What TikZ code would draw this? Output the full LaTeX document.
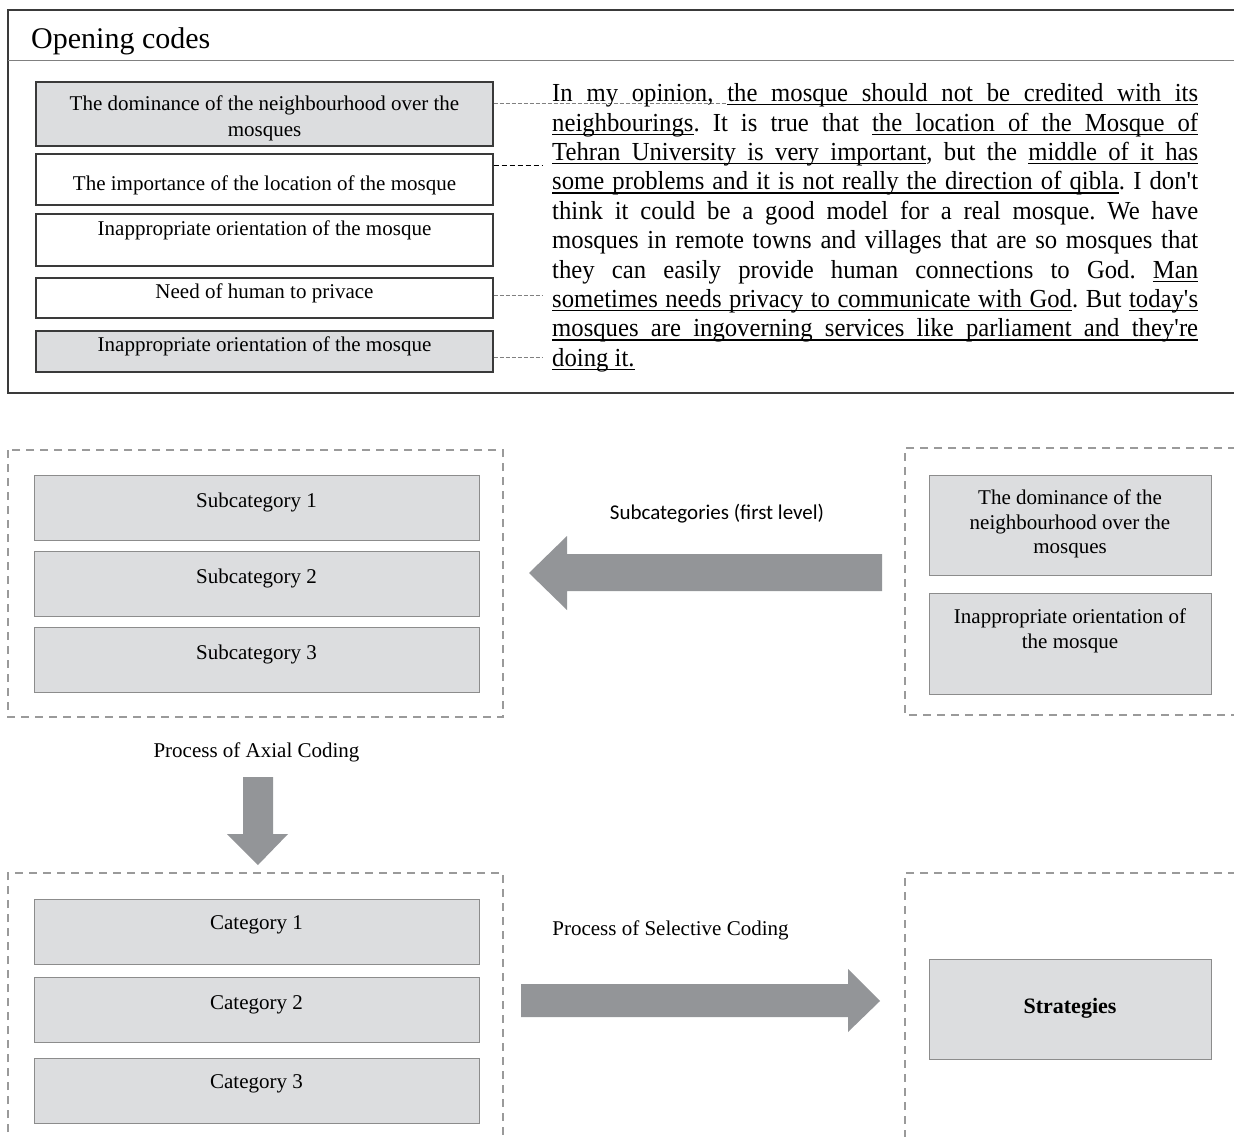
\documentclass[tikz,border=0pt]{standalone}
\usepackage{fontspec}
\setmainfont{Liberation Serif}
\newfontfamily\carlito{Carlito}
\newfontfamily\parafont{Liberation Serif}[FakeStretch=0.95]
\definecolor{boxfill}{HTML}{DCDDDF}
\definecolor{arrowgray}{HTML}{939598}
\definecolor{framegray}{HTML}{9A9A9A}
\definecolor{linedark}{HTML}{3A3A3A}
\definecolor{catline}{HTML}{8C8C8C}
\newcommand\uw[1]{\setbox0=\hbox{#1}\rlap{\vrule height -2.4pt depth 3.7pt width \wd0}\box0}
\newcommand\usp{\leaders\hrule height -2.4pt depth 3.7pt\hskip\fontdimen2\font plus\fontdimen3\font minus\fontdimen4\font\relax}
\makeatletter
\def\myul#1{\myul@word#1 \myul@end}
\def\myul@word#1 #2\myul@end{\uw{#1}\ifx\relax#2\relax\else\usp\myul@word#2\myul@end\fi}
\makeatother
\begin{document}
\begin{tikzpicture}[x=1pt,y=-1pt,
  codebox/.style={draw=linedark, line width=1.1pt, minimum width=457pt, inner sep=0pt},
  catbox/.style={draw=catline, fill=boxfill, line width=1pt, minimum width=445pt, minimum height=65pt, inner sep=0pt},
  rbox/.style={draw=catline, fill=boxfill, line width=1pt, minimum width=282pt, inner sep=0pt},
  txt/.style={font=\fontsize{21}{26}\selectfont, inner sep=0pt, align=center},
  frame/.style={draw=framegray, line width=1.4pt, dash pattern=on 8pt off 6pt},
  conn/.style={draw=gray, line width=0.8pt, dash pattern=on 4pt off 2pt},
  blockarrow/.style={fill=arrowgray}]
\useasboundingbox (0,0) rectangle (1234,1137);

% ---------- Opening codes panel ----------
\draw[draw=linedark, line width=1.1pt] (8,10) rectangle (1250,393);
\draw[draw=gray, line width=1pt] (8,61) -- (1250,61);
\node[anchor=base west, inner sep=0pt, font=\fontsize{30}{36}\selectfont] (title) at (31,49) {Opening codes};

\node[codebox, fill=boxfill, minimum height=64pt] (b1) at (264.5,114) {};
\node[codebox, fill=white, minimum height=51pt] (b2) at (264.5,179.5) {};
\node[codebox, fill=white, minimum height=52pt] (b3) at (264.5,240) {};
\node[codebox, fill=white, minimum height=40pt] (b4) at (264.5,298) {};
\node[codebox, fill=boxfill, minimum height=41pt] (b5) at (264.5,351.5) {};

\node[txt] (t1) at (264.5,118) {The dominance of the neighbourhood over the\\mosques};
\node[txt] (t2) at (264.5,185) {The importance of the location of the mosque};
\node[txt] (t3) at (264.5,230) {Inappropriate orientation of the mosque};
\node[txt] (t4) at (264.5,293) {Need of human to privace};
\node[txt] (t5) at (264.5,346) {Inappropriate orientation of the mosque};

\coordinate (e1) at (727,103);
\coordinate (e2) at (542,165);
\coordinate (e4) at (542,295);
\coordinate (e5) at (542,357);
\draw[conn] (b1.east |- e1) -- (e1);
\draw[draw=black, line width=0.8pt, dash pattern=on 5pt off 3pt] (b2.east |- e2) -- (e2);
\draw[conn] (b4.east |- e4) -- (e4);
\draw[conn] (b5.east |- e5) -- (e5);

\node[anchor=north west, inner sep=0pt, text width=646pt, align=justify,
      font=\parafont\fontsize{26}{29.4}\selectfont] (para) at (552,83.5)
{\frenchspacing\tolerance=10000\hbadness=10000\hyphenpenalty=10000\emergencystretch=0pt
In my opinion, \myul{the mosque should not be credited with its}\linebreak
\myul{neighbourings}. It is true that \myul{the location of the Mosque of}\linebreak
\myul{Tehran University is very important}, but the \myul{middle of it has}\linebreak
\myul{some problems and it is not really the direction of qibla}. I don\textquotesingle t\linebreak
think it could be a good model for a real mosque. We have\linebreak
mosques in remote towns and villages that are so mosques that\linebreak
they can easily provide human connections to God. \myul{Man}\linebreak
\myul{sometimes needs privacy to communicate with God}. But \myul{today\textquotesingle s}\linebreak
\myul{mosques are ingoverning services like parliament and they\textquotesingle re}\linebreak
\myul{doing it.}\par};

% ---------- Axial coding ----------
\draw[frame] (8,450) rectangle (503,717);
\draw[frame] (1250,448) -- (905,448) -- (905,715) -- (1250,715);

\node[catbox] (s1) at (256.5,507.5) {};
\node[catbox] (s2) at (256.5,583.5) {};
\node[catbox] (s3) at (256.5,659.5) {};
\node[txt] (s1t) at (256.5,502) {Subcategory 1};
\node[txt] (s2t) at (256.5,578) {Subcategory 2};
\node[txt] (s3t) at (256.5,654) {Subcategory 3};

\fill[blockarrow] (529,573) -- (567,536) -- (567,554) -- (882,554) -- (882,591) -- (567,591) -- (567,610) -- cycle;
\node[inner sep=0pt, font=\carlito\fontsize{21}{25}\selectfont] (lab1) at (717,514) {Subcategories (first level)};

\node[rbox, minimum height=100pt] (r1) at (1070,525) {};
\node[rbox, minimum height=101pt] (r2) at (1070,643.5) {};
\node[txt, font=\fontsize{21}{24.5}\selectfont] (r1t) at (1070,524) {The dominance of the\\neighbourhood over the\\mosques};
\node[txt, font=\fontsize{21}{24.5}\selectfont] (r2t) at (1070,631) {Inappropriate orientation of\\the mosque};

\node[txt] (lab2) at (256.5,752) {Process of Axial Coding};
\fill[blockarrow] (243,777) -- (273,777) -- (273,834) -- (288,834) -- (258,865) -- (227,834) -- (243,834) -- cycle;

% ---------- Selective coding ----------
\draw[frame] (8,1160) -- (8,873) -- (503,873) -- (503,1160);
\draw[frame] (1250,873) -- (905,873) -- (905,1160);

\node[catbox] (c1) at (256.5,931.5) {};
\node[catbox] (c2) at (256.5,1009.5) {};
\node[catbox] (c3) at (256.5,1090.5) {};
\node[txt] (c1t) at (256.5,925) {Category 1};
\node[txt] (c2t) at (256.5,1005) {Category 2};
\node[txt] (c3t) at (256.5,1084) {Category 3};

\node[txt] (lab3) at (670.5,930) {Process of Selective Coding};
\fill[blockarrow] (521,984) -- (848,984) -- (848,969) -- (880,1001) -- (848,1032) -- (848,1017) -- (521,1017) -- cycle;

\node[rbox, minimum height=100pt] (st) at (1070,1009) {};
\node[txt, font=\bfseries\fontsize{22}{26}\selectfont] (stt) at (1070,1008) {Strategies};
\end{tikzpicture}
\end{document}
